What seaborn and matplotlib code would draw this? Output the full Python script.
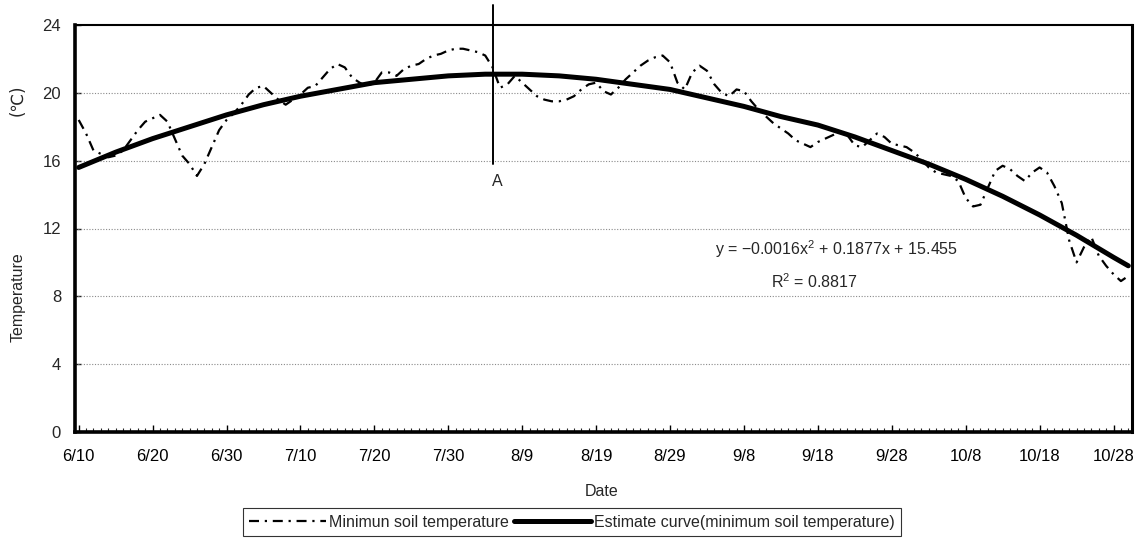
import numpy as np
import pandas as pd
import matplotlib
matplotlib.use("Agg")
import matplotlib.pyplot as plt
import seaborn as sns
from matplotlib.lines import Line2D

# ---------------- data ----------------
tick_days = [0, 10, 20, 30, 40, 50, 60, 70, 80, 90, 100, 110, 120, 130, 140]
tick_labels = ["6/10", "6/20", "6/30", "7/10", "7/20", "7/30", "8/9", "8/19",
               "8/29", "9/8", "9/18", "9/28", "10/8", "10/18", "10/28"]

min_soil_temp = [
    18.4, 17.6, 16.6, 16.4, 16.2, 16.3, 16.6, 17.2, 17.8, 18.3,   # 6/10-6/19
    18.5, 18.7, 18.3, 17.3, 16.3, 15.8, 15.1, 15.8, 16.8, 17.8,   # 6/20-6/29
    18.4, 18.8, 19.3, 19.9, 20.3, 20.4, 20.0, 19.6, 19.3, 19.6,   # 6/30-7/9
    19.9, 20.3, 20.4, 20.9, 21.4, 21.7, 21.5, 20.9, 20.6, 20.4,   # 7/10-7/19
    20.6, 21.2, 21.2, 21.0, 21.4, 21.6, 21.7, 22.0, 22.2, 22.3,   # 7/20-7/29
    22.5, 22.6, 22.6, 22.5, 22.4, 22.2, 21.5, 20.3, 20.5, 21.0,   # 7/30-8/8
    20.6, 20.2, 19.8, 19.6, 19.5, 19.5, 19.6, 19.8, 20.2, 20.5,   # 8/9-8/18
    20.6, 20.1, 19.9, 20.3, 20.8, 21.2, 21.6, 21.9, 22.1, 22.2,   # 8/19-8/28
    21.8, 20.6, 20.2, 21.2, 21.6, 21.3, 20.5, 20.0, 19.8, 20.2,   # 8/29-9/7
    20.1, 19.5, 19.0, 18.6, 18.2, 17.9, 17.6, 17.2, 17.0, 16.8,   # 9/8-9/17
    17.1, 17.3, 17.5, 17.7, 17.5, 16.9, 16.8, 17.2, 17.6, 17.4,   # 9/18-9/27
    17.0, 16.9, 16.8, 16.5, 16.1, 15.6, 15.3, 15.2, 15.1, 14.8,   # 9/28-10/7
    13.8, 13.3, 13.4, 14.4, 15.4, 15.7, 15.5, 15.1, 14.8, 15.3,   # 10/8-10/17
    15.6, 15.3, 14.5, 13.5, 11.3, 10.0, 10.9, 11.5, 10.4, 9.8,    # 10/18-10/27
    9.3, 8.9, 9.2,                                                # 10/28-10/30
]
days = list(range(len(min_soil_temp)))

curve_days = [0, 5, 10, 15, 20, 25, 30, 35, 40, 45, 50, 55, 60, 65, 70,
              75, 80, 85, 90, 95, 100, 105, 110, 115, 120, 125, 130, 135, 140, 142]
curve_vals = [15.6, 16.5, 17.3, 18.0, 18.7, 19.3, 19.8, 20.2, 20.6, 20.8,
              21.0, 21.1, 21.1, 21.0, 20.8, 20.5, 20.2, 19.7, 19.2, 18.6,
              18.1, 17.4, 16.6, 15.8, 14.9, 13.9, 12.8, 11.6, 10.3, 9.8]

marker_day = 56          # line "A" (8/5)
y_ticks = [0, 4, 8, 12, 16, 20, 24]
series_labels = ["Minimun soil temperature", "Estimate curve(minimum soil temperature)"]
equation_text = r"y = $-$0.0016x$^2$ + 0.1877x + 15.455"
r2_text = r"R$^2$ = 0.8817"

# ---------------- style ----------------
sns.set_theme(style="white")
plt.rcParams["font.family"] = ["Liberation Sans", "DejaVu Sans"]
plt.rcParams["mathtext.fontset"] = "custom"
plt.rcParams["mathtext.rm"] = "Liberation Sans"
plt.rcParams["mathtext.it"] = "Liberation Sans"

fig = plt.figure(figsize=(11.41, 5.55), dpi=100)
ax = fig.add_axes([75 / 1141, 1 - 432 / 555, (1132 - 75) / 1141, (432 - 25) / 555])

df_min = pd.DataFrame({"day": days, "temp": min_soil_temp})
df_fit = pd.DataFrame({"day": curve_days, "temp": curve_vals})

dashdot = (0, (4.5, 2.6, 1.0, 2.6))
sns.lineplot(data=df_min, x="day", y="temp", ax=ax, color="black",
             linewidth=1.6, linestyle=dashdot, zorder=3)
sns.lineplot(data=df_fit, x="day", y="temp", ax=ax, color="black",
             linewidth=3.6, zorder=4)

ax.set_xlim(-0.5, len(days) - 0.5)
ax.set_ylim(0, 24)
ax.set_xticks(tick_days)
ax.set_xticklabels(tick_labels, fontsize=12)
ax.set_xticks(days, minor=True)
ax.set_yticks(y_ticks)
ax.set_yticklabels([str(v) for v in y_ticks], fontsize=12)
ax.tick_params(axis="x", which="major", direction="in", length=5, width=1,
               pad=12, bottom=True, colors="black")
ax.tick_params(axis="x", which="minor", direction="in", length=3, width=0.8,
               bottom=True)
ax.tick_params(axis="y", direction="in", length=4, width=1, pad=10, left=True)
ax.set_xlabel("")
ax.set_ylabel("")

for y in y_ticks[1:-1]:
    ax.axhline(y, color="#8a8a8a", linewidth=0.8, linestyle=(0, (1, 1.5)), zorder=1)

for side, lw in [("left", 2.6), ("bottom", 2.6), ("top", 1.5), ("right", 2.2)]:
    ax.spines[side].set_visible(True)
    ax.spines[side].set_color("black")
    ax.spines[side].set_linewidth(lw)

# vertical marker line "A"
ax.plot([marker_day, marker_day], [15.8, 25.2], color="black", linewidth=1.4,
        clip_on=False, zorder=5)
ax.annotate("A", xy=(marker_day, 15.2), xytext=(3, 0), textcoords="offset points",
            ha="center", va="top", fontsize=11.5)

# regression text
ax.text(102.5, 10.8, equation_text, ha="center", va="center", fontsize=11.5)
ax.text(99.5, 8.85, r2_text, ha="center", va="center", fontsize=11.5)

# axis labels
fig.text(18 / 1141, 1 - 297 / 555, "Temperature", rotation=90, ha="center",
         va="center", fontsize=11.5)
fig.text(18 / 1141, 1 - 100 / 555, "(\u2103)", rotation=90, ha="center",
         va="center", fontsize=12, family=["DejaVu Sans"])
fig.text(602 / 1141, 1 - 491 / 555, "Date", ha="center", va="center", fontsize=11.5)

# legend
handles = [Line2D([], [], color="black", linewidth=1.6, linestyle=dashdot),
           Line2D([], [], color="black", linewidth=3.6)]
leg = fig.legend(handles, series_labels, loc="center", ncol=2,
                 bbox_to_anchor=(572 / 1141, 1 - 522 / 555), fontsize=11.5,
                 frameon=True, fancybox=False, edgecolor="black",
                 handlelength=4.8, handletextpad=0.2, columnspacing=0.3,
                 borderpad=0.4)
leg.get_frame().set_linewidth(0.8)

fig.savefig("out.png", dpi=100)
